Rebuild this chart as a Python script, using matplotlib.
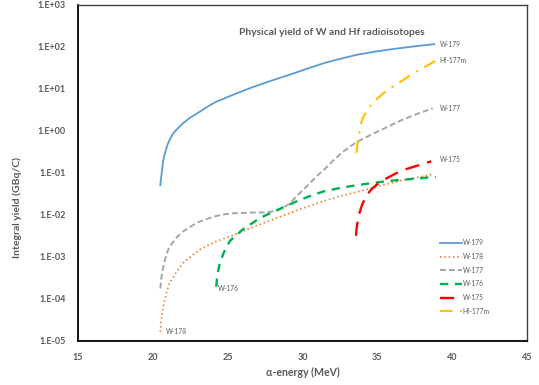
import matplotlib
matplotlib.use("Agg")
import matplotlib.pyplot as plt

plt.rcParams['font.family'] = ['Lato', 'DejaVu Sans']

# alpha-particle energy (MeV) and integral yield (GBq/C) for each radioisotope
e_w179 = [20.5, 20.55, 20.6, 20.65, 20.7, 20.8, 20.9, 21.0, 21.1, 21.3, 21.5,
          21.8, 22.0, 22.5, 23.1, 23.6, 24.2, 24.8, 25.4, 26.5, 27.6, 28.7,
          29.8, 30.6, 31.4, 32.5, 33.6, 34.7, 35.8, 37.3, 38.8]
y_w179 = [0.051, 0.076, 0.105, 0.148, 0.204, 0.288, 0.38, 0.49, 0.59, 0.81, 1.0,
          1.29, 1.51, 2.09, 2.82, 3.7, 4.9, 6.0, 7.4, 10.5, 14.5, 19.5,
          26.3, 33.0, 41.0, 52.0, 65.0, 76.0, 87.0, 102.0, 117.0]

e_w178 = [20.5, 20.58, 20.7, 20.9, 21.1, 21.6, 22.0, 22.6, 23.1, 23.7, 24.2,
          25.4, 26.5, 27.6, 28.7, 29.8, 31.4, 32.5, 33.6, 34.7, 36.5, 38.7]
y_w178 = [1.66e-5, 3.8e-5, 6.6e-5, 1.38e-4, 2.34e-4, 4.5e-4, 7.1e-4, 1.07e-3,
          1.48e-3, 1.9e-3, 2.32e-3, 3.34e-3, 4.82e-3, 6.9e-3, 9.6e-3, 1.36e-2,
          2.14e-2, 2.8e-2, 3.5e-2, 4.5e-2, 6.5e-2, 9.3e-2]

e_w177 = [20.5, 20.58, 20.7, 20.9, 21.1, 21.6, 22.0, 22.6, 23.1, 23.7, 24.2,
          24.8, 25.4, 26.5, 27.6, 28.2, 28.7, 29.1, 29.7, 30.25, 31.0, 31.5,
          32.0, 32.7, 33.6, 34.5, 35.4, 36.5, 37.6, 38.7]
y_w177 = [1.78e-4, 3.4e-4, 5.9e-4, 1.12e-3, 1.74e-3, 2.95e-3, 4.0e-3, 5.5e-3,
          6.9e-3, 8.3e-3, 9.4e-3, 1.04e-2, 1.10e-2, 1.14e-2, 1.15e-2, 1.26e-2,
          1.48e-2, 1.82e-2, 3.0e-2, 4.7e-2, 8.7e-2, 0.126, 0.19, 0.32, 0.54,
          0.79, 1.12, 1.74, 2.51, 3.47]

e_w176 = [24.24, 24.3, 24.47, 24.7, 24.91, 25.2, 25.58, 26.0, 26.47, 27.0, 27.58,
          28.69, 29.58, 30.4, 31.36, 32.5, 33.58, 34.7, 35.8, 37.3, 38.9]
y_w176 = [1.95e-4, 3.5e-4, 7.1e-4, 1.17e-3, 1.78e-3, 2.51e-3, 3.3e-3, 4.5e-3,
          5.8e-3, 7.8e-3, 1.0e-2, 1.51e-2, 2.09e-2, 2.75e-2, 3.6e-2, 4.4e-2,
          5.1e-2, 5.8e-2, 6.5e-2, 7.2e-2, 8.1e-2]

e_w175 = [33.58, 33.62, 33.7, 33.8, 34.0, 34.24, 34.55, 34.91, 35.3, 35.8, 36.3,
          36.91, 37.7, 38.6]
y_w175 = [3.2e-3, 5.0e-3, 7.6e-3, 1.1e-2, 1.82e-2, 2.75e-2, 3.9e-2, 5.1e-2,
          6.5e-2, 8.1e-2, 0.100, 0.123, 0.151, 0.19]

e_hf177m = [33.6, 33.65, 33.7, 33.8, 33.9, 34.1, 34.5, 35.0, 35.4, 36.0, 36.7,
            37.3, 38.0, 38.9]
y_hf177m = [0.30, 0.42, 0.56, 0.93, 1.5, 2.3, 3.8, 5.9, 7.9, 11.2, 16.2, 22.4,
            31.0, 47.0]

x_ticks = [15, 20, 25, 30, 35, 40, 45]
y_ticks = [1e-5, 1e-4, 1e-3, 1e-2, 1e-1, 1e0, 1e1, 1e2, 1e3]
y_tick_labels = ["1.E-05", "1.E-04", "1.E-03", "1.E-02", "1.E-01",
                 "1.E+00", "1.E+01", "1.E+02", "1.E+03"]

TXT = "#595959"

fig = plt.figure(figsize=(5.39, 3.85), dpi=100)
ax = fig.add_axes([78 / 539, 1 - 341 / 385, (527 - 78) / 539, (341 - 5) / 385])

series = [
    ("W-179", e_w179, y_w179, dict(color="#5B9BD5", lw=1.3, ls="-")),
    ("W-178", e_w178, y_w178, dict(color="#ED7D31", lw=1.3, ls=(0, (0.8, 1.6)))),
    ("W-177", e_w177, y_w177, dict(color="#A5A5A5", lw=1.4, ls=(0, (3, 1.6)))),
    ("W-176", e_w176, y_w176, dict(color="#00B050", lw=1.7, ls=(0, (3.5, 2.8)))),
    ("W-175", e_w175, y_w175, dict(color="#FF0000", lw=1.7, ls=(0, (6, 3.5)))),
    ("Hf-177m", e_hf177m, y_hf177m, dict(color="#FFC000", lw=1.5,
                                         ls=(0, (6, 3.5, 1, 3.5)))),
]

handles = []
for name, e, y, st in series:
    ln, = ax.plot(e, y, label=name, **st)
    handles.append(ln)

ax.set_yscale("log")
ax.set_xlim(15, 45)
ax.set_ylim(1e-5, 1e3)
ax.set_xticks(x_ticks)
ax.set_xticklabels([str(t) for t in x_ticks])
ax.set_yticks(y_ticks)
ax.set_yticklabels(y_tick_labels)
ax.minorticks_off()
ax.tick_params(length=0, labelsize=6.5, labelcolor=TXT, pad=9)
for lab in ax.get_xticklabels() + ax.get_yticklabels():
    lab.set_fontweight("bold")

for side in ("left", "bottom"):
    ax.spines[side].set_color("#000000")
    ax.spines[side].set_linewidth(1.3)
for side in ("top", "right"):
    ax.spines[side].set_color("#404040")
    ax.spines[side].set_linewidth(1.0)

ax.set_xlabel("α-energy (MeV)", fontsize=7.6, fontweight="bold", color=TXT,
              labelpad=3)
ax.set_ylabel("Integral yield (GBq/C)", fontsize=7.5, fontweight="bold",
              color=TXT)
ax.yaxis.set_label_coords(-0.124, 0.396)

ax.text(0.566, 0.917, "Physical yield of W and Hf radioisotopes",
        transform=ax.transAxes, ha="center", va="center", fontsize=7.4,
        fontweight="bold", color=TXT)

# series name tags next to curve ends
tag_kw = dict(fontsize=4.8, color=TXT, textcoords="offset points", va="center")
ax.annotate("W-179", (e_w179[-1], y_w179[-1]), xytext=(4, 0), **tag_kw)
ax.annotate("Hf-177m", (e_hf177m[-1], y_hf177m[-1]), xytext=(3, 0), **tag_kw)
ax.annotate("W-177", (e_w177[-1], y_w177[-1]), xytext=(5, 0), **tag_kw)
ax.annotate("W-175", (e_w175[-1], y_w175[-1]), xytext=(6, 1), **tag_kw)
ax.annotate("W-176", (e_w176[0], y_w176[0]), xytext=(1.5, -1), **tag_kw)
ax.annotate("W-178", (e_w178[0], y_w178[0]), xytext=(4, 0), **tag_kw)

leg = ax.legend(handles=handles, loc="upper left",
                bbox_to_anchor=(439 / 539, 1 - 238 / 385),
                bbox_transform=fig.transFigure, frameon=False, fontsize=4.8,
                handlelength=3.2, handletextpad=0.15, labelspacing=1.0,
                borderpad=0.2, borderaxespad=0)
for t in leg.get_texts():
    t.set_color(TXT)

fig.savefig("out.png", dpi=100)
